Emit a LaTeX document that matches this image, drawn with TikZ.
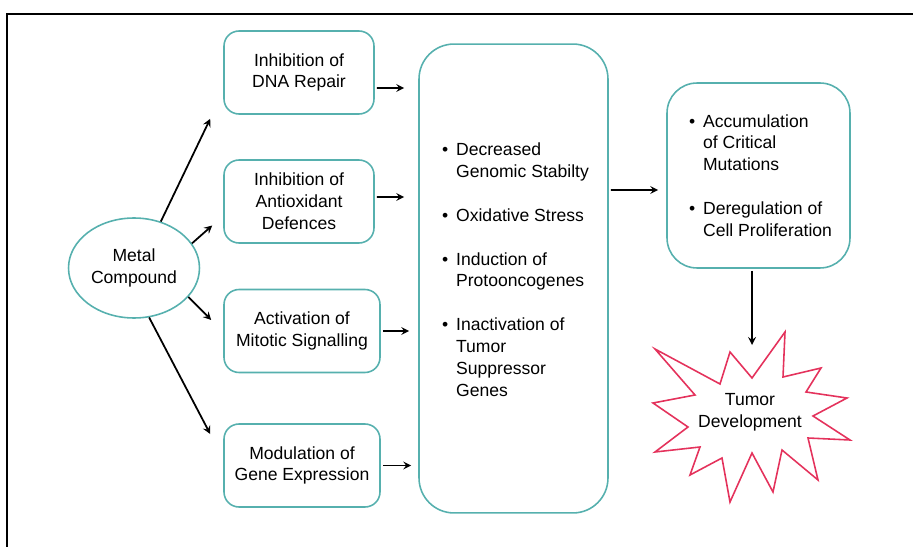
\documentclass[tikz,border=0pt]{standalone}
\usepackage{fontspec}
\setmainfont{Liberation Sans}
\usetikzlibrary{shapes.geometric, arrows, positioning}
\definecolor{tealline}{RGB}{86,176,174}
\definecolor{burstred}{RGB}{228,50,92}
\newcommand{\bul}{\textbullet\hspace{4.5pt}}
\newcommand{\ind}{\hphantom{\textbullet}\hspace{4.5pt}}

\begin{document}
\begin{tikzpicture}[
    x=0.02cm, y=-0.02cm,
    >=stealth,
    font=\fontsize{10pt}{12.4pt}\selectfont,
    conn/.style={->, line width=1pt},
    box/.style={rectangle, draw=tealline, line width=0.9pt, rounded corners=0.3cm, align=center, minimum width=3cm, minimum height=1.66cm, inner sep=0pt},
    widebox/.style={box, minimum width=3.12cm},
    bigbox/.style={rectangle, draw=tealline, line width=0.9pt, rounded corners=0.7cm, inner sep=0pt},
    bullets/.style={align=left, inner sep=0pt},
    compound/.style={ellipse, draw=tealline, line width=0.9pt, align=center, minimum width=2.62cm, minimum height=2cm, inner sep=0pt},
    burst/.style={draw=burstred, line width=0.9pt, line join=miter}
  ]
  \useasboundingbox (0,0) rectangle (913,547);

  % --- MOLDURA ---
  \draw[line width=1.3pt] (913,14) -- (7,14) -- (7,547);

  % --- NOS ---
  \node[compound] (mc) at (134,268) {Metal\\Compound};
  \node[box] (b1) at (299,72.5) {Inhibition of\\DNA Repair};
  \node[box] (b2) at (299,201.5) {Inhibition of\\Antioxidant\\Defences};
  \node[widebox] (b3) at (302,331) {Activation of\\Mitotic Signalling};
  \node[widebox] (b4) at (302,465.5) {Modulation of\\Gene Expression};

  % caixa central com a lista de efeitos
  \node[bigbox, minimum width=3.78cm, minimum height=9.38cm] (big) at (513.5,278.5) {};
  \node[bullets] (effects) at ([shift={(2,-9)}]big.center)
    {\bul Decreased\\ \ind Genomic Stabilty\\[12.6pt]
     \bul Oxidative Stress\\[12.6pt]
     \bul Induction of\\ \ind Protooncogenes\\[12.6pt]
     \bul Inactivation of\\ \ind Tumor\\ \ind Suppressor\\ \ind Genes};

  \node[bigbox, rounded corners=0.6cm, minimum width=3.66cm, minimum height=3.7cm] (prop) at (758.5,175.5) {};
  \node[bullets] (mut) at ([shift={(2,0)}]prop.center)
    {\bul Accumulation\\ \ind of Critical\\ \ind Mutations\\[12.6pt]
     \bul Deregulation of\\ \ind Cell Proliferation};

  % estrela do tumor
  \draw[burst] (655,349) -- (720,384) -- (730,352) -- (752,378) -- (785,332)
    -- (783,377) -- (821,368) -- (806,392) -- (847,398) -- (813,416)
    -- (850,440) -- (808,438) -- (818,480) -- (782,450) -- (773,492)
    -- (752,453) -- (730,502) -- (722,458) -- (690,475) -- (700,447)
    -- (655,452) -- (688,427) -- (653,403) -- (695,395) -- cycle;
  \node[align=center] (tumor) at (750,412) {Tumor\\Development};
  \coordinate (tip) at (752,345);

  % --- SETAS ---
  \path[conn] (mc.60) edge ([shift={(-13,4)}]b1.south west)
              (mc.23) edge ([shift={(-11,24)}]b2.west)
              (mc.-28) edge ([shift={(-12,-11)}]b3.west)
              (mc.-73) edge ([shift={(-13,-31.5)}]b4.west);

  \path[conn] ([shift={(2,15.5)}]b1.east) edge[shorten >=0.28cm] ([yshift=-0.31cm]b1.east -| big.west)
              ([shift={(2,-4.5)}]b2.east) edge[shorten >=0.28cm] ([yshift=0.09cm]b2.east -| big.west)
              ([xshift=0.04cm]b3.east) edge[shorten >=0.18cm] (b3.east -| big.west)
              ([xshift=0.04cm]b4.east) edge[shorten >=0.14cm] (b4.east -| big.west);

  \path[conn] ([shift={(2,14.5)}]prop.west -| big.east) edge[shorten >=0.16cm] ([yshift=-0.29cm]prop.west)
              ([shift={(-6.5,2)}]prop.south) edge (tip);

\end{tikzpicture}
\end{document}
